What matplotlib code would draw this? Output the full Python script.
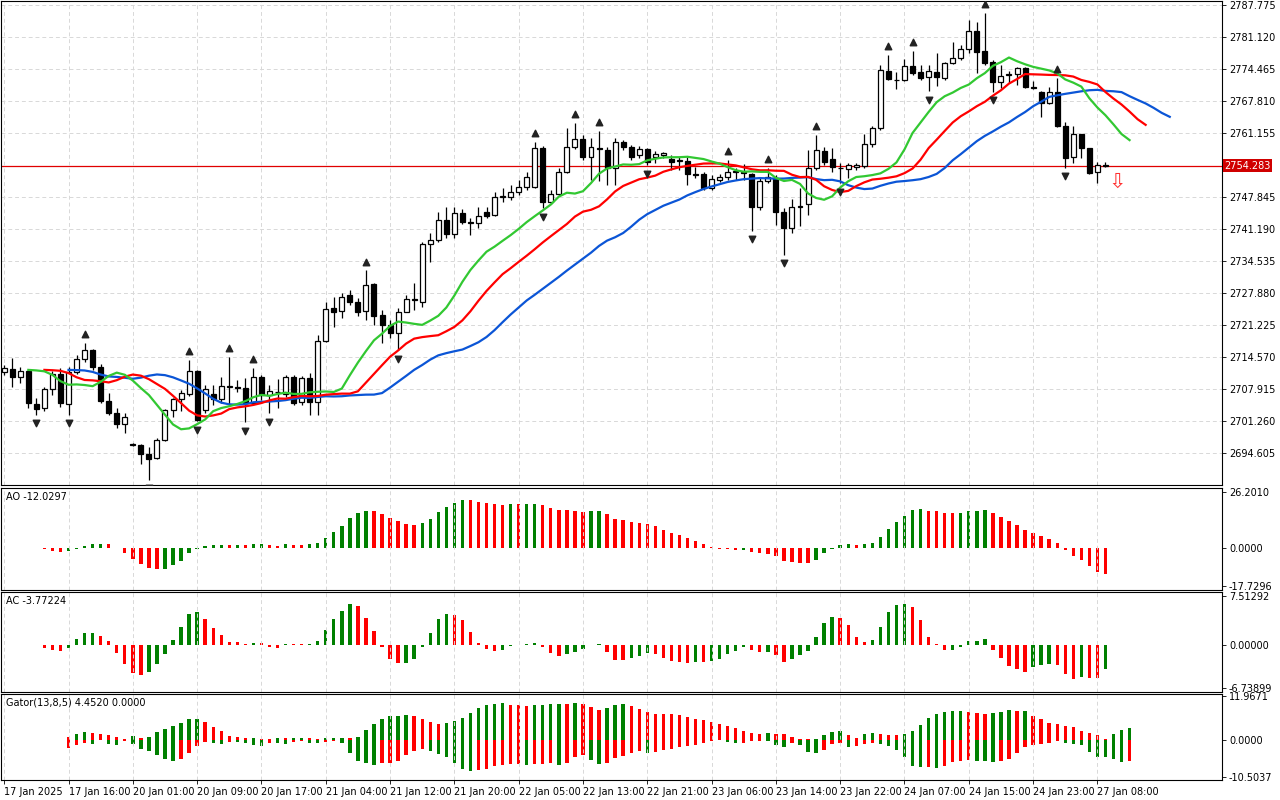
import numpy as np
import pandas as pd
import matplotlib
matplotlib.use("Agg")
import matplotlib.pyplot as plt

# hourly OHLC, XAUUSD-like
opens = [2711.4,2712.0,2710.4,2711.6,2704.8,2703.9,2707.9,2711.0,2704.8,2711.4,
         2714.1,2716.0,2712.5,2705.4,2702.9,2700.6,2696.4,2696.2,2694.4,2693.5,
         2697.3,2703.5,2705.8,2706.8,2711.6,2703.5,2706.8,2705.8,2708.3,2708.3,
         2708.1,2705.0,2710.4,2706.6,2707.3,2706.8,2710.4,2705.2,2710.2,2705.2,
         2717.9,2724.7,2724.1,2727.4,2726.0,2724.1,2729.7,2723.3,2721.2,2719.5,
         2723.9,2726.6,2726.0,2738.0,2738.9,2743.0,2740.1,2744.5,2742.6,2742.4,
         2744.7,2744.1,2747.8,2747.8,2748.9,2749.9,2749.9,2758.0,2746.8,2748.4,
         2753.0,2758.2,2759.9,2756.1,2758.0,2757.6,2753.9,2759.3,2758.2,2756.6,
         2757.8,2756.1,2756.6,2755.7,2755.3,2755.3,2752.6,2752.6,2749.7,2751.4,
         2752.0,2753.0,2752.8,2752.6,2745.7,2751.2,2751.8,2744.7,2741.4,2745.7,
         2746.4,2753.9,2757.4,2755.7,2753.9,2753.6,2754.1,2754.3,2758.8,2762.2,
         2774.0,2772.2,2772.2,2775.1,2773.8,2772.8,2773.8,2772.6,2775.7,2776.7,
         2778.6,2782.4,2778.2,2775.9,2771.7,2773.2,2773.4,2774.7,2770.7,2769.7,
         2767.4,2769.7,2762.6,2756.1,2760.9,2758.0,2753.0,2754.5]
highs = [2712.9,2714.3,2712.5,2711.8,2706.0,2708.3,2711.6,2712.3,2712.5,2715.0,
         2717.5,2716.2,2713.1,2707.1,2703.9,2702.9,2696.7,2696.4,2695.8,2697.7,
         2703.7,2706.0,2707.7,2713.9,2711.8,2708.7,2708.7,2710.4,2714.5,2709.8,
         2710.2,2712.3,2710.8,2708.7,2710.0,2710.8,2710.8,2710.6,2711.2,2719.1,
         2726.0,2727.0,2727.9,2728.5,2726.8,2732.6,2729.9,2724.3,2722.2,2724.7,
         2727.4,2729.9,2738.5,2740.3,2744.7,2745.7,2745.7,2745.3,2743.5,2745.7,
         2745.7,2748.9,2749.7,2750.3,2751.4,2753.0,2759.3,2758.4,2749.3,2753.9,
         2762.2,2763.2,2760.7,2760.1,2761.6,2758.2,2760.1,2759.7,2758.6,2758.4,
         2758.0,2757.4,2757.2,2756.6,2756.1,2756.1,2754.1,2753.0,2752.4,2752.6,
         2755.5,2753.9,2754.7,2752.8,2752.0,2753.9,2752.4,2745.5,2747.4,2749.7,
         2757.6,2760.7,2758.2,2758.0,2754.9,2754.9,2754.9,2760.9,2762.6,2775.3,
         2777.4,2773.8,2776.5,2778.2,2775.3,2775.3,2777.8,2775.9,2780.1,2779.4,
         2784.6,2784.2,2786.1,2776.3,2775.3,2774.0,2774.9,2774.9,2771.9,2769.9,
         2770.7,2772.6,2763.4,2762.6,2760.9,2758.0,2755.1,2755.1]
lows = [2710.8,2708.3,2709.1,2703.9,2702.5,2703.3,2706.6,2704.1,2702.5,2711.0,
        2713.5,2711.8,2705.0,2702.5,2699.8,2698.7,2696.0,2692.3,2689.0,2693.3,
        2697.1,2702.1,2703.3,2706.4,2701.2,2702.9,2704.6,2705.0,2704.4,2707.3,
        2701.0,2704.6,2705.6,2702.9,2703.9,2706.2,2704.6,2704.6,2702.5,2702.5,
        2717.7,2720.8,2722.7,2725.4,2723.1,2722.2,2721.2,2717.5,2718.5,2716.0,
        2723.9,2724.3,2724.9,2734.3,2738.5,2739.3,2739.3,2742.2,2739.9,2741.4,
        2743.5,2743.9,2746.8,2747.2,2748.2,2749.3,2749.7,2745.5,2746.4,2748.0,
        2752.8,2757.8,2755.5,2751.4,2751.1,2750.3,2750.3,2757.6,2755.5,2755.9,
        2754.5,2754.9,2755.9,2753.4,2753.4,2750.3,2751.8,2749.3,2749.3,2751.0,
        2751.4,2751.4,2751.4,2740.8,2745.1,2750.7,2742.0,2735.8,2740.3,2741.8,
        2744.1,2753.4,2754.5,2753.0,2750.7,2751.8,2753.4,2753.9,2758.2,2761.8,
        2772.2,2770.3,2772.0,2773.2,2772.2,2769.9,2770.9,2772.2,2775.5,2776.3,
        2777.8,2773.6,2775.3,2769.7,2770.5,2771.5,2771.1,2770.5,2770.3,2764.5,
        2767.2,2762.4,2753.9,2754.9,2755.9,2752.6,2750.7,2754.1]
closes = [2712.3,2710.4,2711.6,2705.0,2703.7,2707.9,2711.0,2705.0,2711.4,2714.1,
          2716.0,2712.5,2705.4,2702.9,2700.6,2702.1,2696.2,2694.4,2693.3,2697.3,
          2703.5,2705.8,2707.1,2711.6,2701.4,2707.9,2705.8,2708.5,2708.5,2708.1,
          2705.0,2710.4,2706.6,2707.5,2707.2,2710.4,2705.0,2710.2,2705.2,2717.9,
          2724.5,2723.9,2727.0,2726.0,2723.9,2729.5,2723.1,2721.2,2719.5,2723.9,
          2726.6,2726.4,2738.0,2738.9,2743.0,2740.1,2744.5,2742.6,2742.4,2743.9,
          2743.9,2747.8,2747.9,2748.9,2749.9,2752.0,2758.0,2746.8,2748.4,2753.0,
          2758.2,2759.9,2756.1,2758.2,2757.8,2753.9,2759.3,2758.2,2756.1,2757.8,
          2755.1,2756.8,2757.0,2755.1,2755.4,2752.6,2752.5,2749.7,2751.6,2752.0,
          2753.0,2753.1,2752.9,2745.7,2751.2,2752.0,2744.7,2741.4,2745.7,2746.0,
          2753.9,2757.6,2755.1,2754.1,2753.8,2754.5,2754.5,2758.8,2762.2,2774.2,
          2772.4,2772.1,2775.1,2773.6,2772.6,2774.0,2772.8,2775.7,2776.7,2778.6,
          2782.4,2778.0,2775.7,2771.7,2773.0,2773.3,2774.7,2770.7,2770.6,2767.4,
          2769.7,2762.6,2755.9,2760.9,2758.0,2752.8,2754.5,2754.283]

time_labels = ["17 Jan 2025", "17 Jan 16:00", "20 Jan 01:00", "20 Jan 09:00",
               "20 Jan 17:00", "21 Jan 04:00", "21 Jan 12:00", "21 Jan 20:00",
               "22 Jan 05:00", "22 Jan 13:00", "22 Jan 21:00", "23 Jan 06:00",
               "23 Jan 14:00", "23 Jan 22:00", "24 Jan 07:00", "24 Jan 15:00",
               "24 Jan 23:00", "27 Jan 08:00"]
price_ticks = [2787.775, 2781.120, 2774.465, 2767.810, 2761.155,
               2747.845, 2741.190, 2734.535, 2727.880, 2721.225, 2714.570,
               2707.915, 2701.260, 2694.605]
ao_ticks = [26.2010, 0.0, -17.7296]
ac_ticks = [7.51292, 0.0, -6.73899]
gator_ticks = [11.9671, 0.0, -10.5037]

o = np.array(opens); h = np.array(highs); l = np.array(lows); c = np.array(closes)
n = len(c)
x = np.arange(n)
med = pd.Series((h + l) / 2)

def smma(s, p):
    return s.ewm(alpha=1.0 / p, adjust=False).mean().values

jaw = smma(med, 13); teeth = smma(med, 8); lips = smma(med, 5)
ao = (med.rolling(5, min_periods=1).mean() - med.rolling(34, min_periods=1).mean()).values
ac = ao - pd.Series(ao).rolling(5, min_periods=1).mean().values

# shifted alligator arrays on a common index
N = n + 8
J = np.full(N, np.nan); T = np.full(N, np.nan); L = np.full(N, np.nan)
J[8:8 + n] = jaw; T[5:5 + n] = teeth; L[3:3 + n] = lips

fig = plt.figure(figsize=(12.8, 8), dpi=100)
W, H = 1280.0, 800.0
def ax_at(top, bot):
    return fig.add_axes([1 / W, 1 - bot / H, 1221 / W, (bot - top) / H])

ax = ax_at(1, 485)
ax_ao = ax_at(488, 590)
ax_ac = ax_at(592, 692)
ax_g = ax_at(694, 780)
xlim = (-0.4, 151.5)
tick_pos = [i * 8 for i in range(len(time_labels))]

for a in (ax, ax_ao, ax_ac, ax_g):
    a.set_xlim(*xlim)
    a.set_xticks(tick_pos)
    a.yaxis.tick_right()
    a.tick_params(labelsize=7, length=3, width=0.6, pad=2, colors="black")
    for s in a.spines.values():
        s.set_linewidth(0.8)
    a.set_xticklabels([])
    a.tick_params(axis="x", length=0)

# main panel
ax.grid(True, color="#d8d8d8", ls=(0, (4, 3)), lw=0.7)
ax.set_ylim(2687.9, 2788.6)
ax.set_yticks(price_ticks)
ax.set_yticklabels(["%.3f" % v for v in price_ticks])
up = c >= o
ax.vlines(x, l, h, color="black", lw=0.9, zorder=2)
bh = np.maximum(np.abs(c - o), 0.15)
ax.bar(x[up], bh[up], bottom=np.minimum(o, c)[up], width=0.62,
       facecolor="white", edgecolor="black", lw=0.9, zorder=3)
ax.bar(x[~up], bh[~up], bottom=np.minimum(o, c)[~up], width=0.62,
       facecolor="black", edgecolor="black", lw=0.9, zorder=3)
xi = np.arange(N)
ax.plot(xi, J, color="#0b55d6", lw=1.6, zorder=4)
ax.plot(xi, T, color="#ff0000", lw=1.6, zorder=4)
ax.plot(xi, L, color="#32c832", lw=1.6, zorder=4)

# fractals
for i in range(2, n - 2):
    if h[i] > max(h[i - 2], h[i - 1], h[i + 1], h[i + 2]):
        ax.scatter(i, h[i] + 1.8, marker="^", s=22, color="#222222", zorder=5)
    if l[i] < min(l[i - 2], l[i - 1], l[i + 1], l[i + 2]):
        ax.scatter(i, l[i] - 1.8, marker="v", s=22, color="#222222", zorder=5)

last = closes[-1]
ax.axhline(last, color="#e00000", lw=0.9, zorder=1)
ax.text(1.002, last, "%.3f" % last, transform=ax.get_yaxis_transform(),
        fontsize=7, color="white", va="center", ha="left",
        bbox=dict(boxstyle="square,pad=0.15", fc="#d00000", ec="none"), clip_on=False)
ax.text(138.5, 2751.0, "\u21e9", fontsize=15, color="#ff3030", ha="center", va="center")

def bars(a, vals, idx, ticks, fmt, label):
    vals = np.asarray(vals)
    cols = ["#008000" if (k > 0 and vals[k] > vals[k - 1]) else "#ff0000" for k in range(len(vals))]
    a.bar(idx, vals, width=0.42, color=cols)
    a.set_ylim(ticks[2] - (ticks[0] - ticks[2]) * 0.04, ticks[0] + (ticks[0] - ticks[2]) * 0.04)
    a.set_yticks(ticks)
    a.set_yticklabels([fmt % t for t in ticks])
    a.grid(True, axis="x", color="#d8d8d8", ls=(0, (4, 3)), lw=0.7)
    a.text(0.004, 0.96, label, transform=a.transAxes, fontsize=7, va="top")

bars(ax_ao, ao, x, ao_ticks, "%.4f", "AO -12.0297")
bars(ax_ac, ac, x, ac_ticks, "%.5f", "AC -3.77224")

# gator
gu = np.abs(J - T)
gl = -np.abs(T - L)
ok = ~np.isnan(gu) & ~np.isnan(gl)
gi = xi[ok]; gu = gu[ok]; gl = gl[ok]
cu = ["#008000" if (k > 0 and gu[k] > gu[k - 1]) else "#ff0000" for k in range(len(gu))]
cl = ["#008000" if (k > 0 and -gl[k] > -gl[k - 1]) else "#ff0000" for k in range(len(gl))]
ax_g.bar(gi, gu, width=0.42, color=cu)
ax_g.bar(gi, gl, width=0.42, color=cl)
ax_g.set_ylim(-11.2, 12.6)
ax_g.set_yticks(gator_ticks)
ax_g.set_yticklabels(["%.4f" % t for t in gator_ticks])
ax_g.grid(True, axis="x", color="#d8d8d8", ls=(0, (4, 3)), lw=0.7)
ax_g.text(0.004, 0.96, "Gator(13,8,5) 4.4520 0.0000", transform=ax_g.transAxes, fontsize=7, va="top")

ax_g.tick_params(axis="x", length=3)
ax_g.set_xticklabels(time_labels, fontsize=7, ha="left")

fig.savefig("out.png", dpi=100, facecolor="white")
